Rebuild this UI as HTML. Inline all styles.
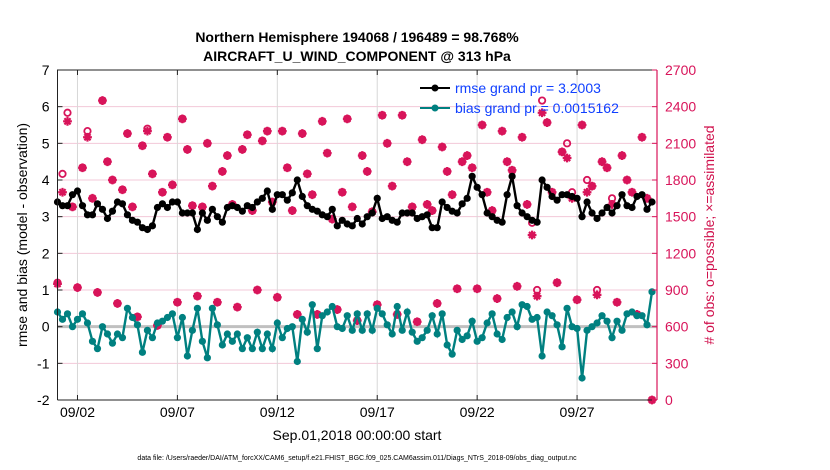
<!DOCTYPE html>
<html><head><meta charset="utf-8"><style>
body{margin:0;background:#fff;}
svg{display:block;font-family:"Liberation Sans",Arial,sans-serif;}
</style></head><body>
<svg id="chart" width="830" height="470" xmlns="http://www.w3.org/2000/svg">
<rect width="830" height="470" fill="#fff"/>
<g id="grid"></g>
<g id="marks"></g>
<g id="axes"></g>
<text x="357" y="42" text-anchor="middle" font-size="14" font-weight="bold">Northern Hemisphere 194068 / 196489 = 98.768%</text>
<text x="357" y="61" text-anchor="middle" font-size="14" font-weight="bold">AIRCRAFT_U_WIND_COMPONENT @ 313 hPa</text>
<text transform="translate(27,235) rotate(-90)" text-anchor="middle" font-size="14">rmse and bias (model - observation)</text>
<text transform="translate(714,235) rotate(-90)" text-anchor="middle" font-size="14" fill="#d0104c"># of obs: o=possible; ×=assimilated</text>
<text x="357" y="440" text-anchor="middle" font-size="14">Sep.01,2018 00:00:00 start</text>
<text x="357" y="460" text-anchor="middle" font-size="7">data file: /Users/raeder/DAI/ATM_forcXX/CAM6_setup/f.e21.FHIST_BGC.f09_025.CAM6assim.011/Diags_NTrS_2018-09/obs_diag_output.nc</text>
<g>
<line x1="420" y1="88" x2="450" y2="88" stroke="#000" stroke-width="2"/><circle cx="435" cy="88" r="3.5" fill="#000"/>
<text x="455" y="93" font-size="14" fill="#1040ff">rmse grand pr = 3.2003</text>
<line x1="420" y1="108" x2="450" y2="108" stroke="#008080" stroke-width="2"/><circle cx="435" cy="108" r="3.5" fill="#008080"/>
<text x="455" y="113" font-size="14" fill="#1040ff">bias grand pr = 0.0015162</text>
</g>
</svg>
<script>
const rmse=[3.4,3.3,3.3,3.6, 3.7,3.3,3.05,3.05, 3.35,3.2,2.95,3.15, 3.4,3.35,3.05,2.9, 2.85,2.7,2.65,2.75, 3.25,3.35,3.25,3.4, 3.4,3.1,3.1,3.1, 2.65,3.1,2.9,3.2, 3.0,2.85,3.25,3.3, 3.25,3.15,3.3,3.25, 3.4,3.5,3.7,3.2, 3.6,3.6,3.45,3.65, 4.0,3.55,3.3,3.2, 3.15,3.05,3.0,3.2, 2.75,2.9,2.8,2.75, 2.95,2.8,3.0,3.1, 3.5,2.95,3.0,2.9, 2.85,3.1,3.1,3.1, 2.95,3.0,3.05,2.7, 2.7,3.4,3.25,3.15, 3.1,3.35,3.5,4.1, 3.8,3.6,3.1,3.0, 2.9,2.85,3.6,4.1, 3.3,3.1,3.0,2.9, 2.85,4.0,3.8,3.55, 3.45,3.6,3.6,3.55, 3.5,3.0,3.4,3.1, 2.95,3.1,3.25,3.1, 3.3,3.6,3.3,3.25, 3.55,3.6,3.2,3.4];
const bias=[0.4,0.2,0.35,0.0, 0.2,0.35,0.1,-0.4, -0.6,0.0,-0.2,-0.45, -0.2,-0.3,0.5,0.25, 0.05,-0.7,-0.1,-0.3, 0.1,0.15,0.25,0.35, -0.3,0.25,-0.8,-0.1, 0.5,-0.4,-0.85,0.5, 0.05,-0.5,-0.2,-0.4, -0.2,-0.6,-0.3,-0.6, -0.15,-0.6,-0.2,-0.6, 0.1,-0.3,-0.05,0.0, -0.95,0.2,-0.15,0.6, -0.6,0.3,0.4,0.55, 0.0,-0.05,0.3,-0.1, 0.35,-0.1,0.35,-0.1, 0.5,0.35,0.05,-0.2, 0.55,-0.1,0.4,-0.15, -0.4,-0.3,-0.1,0.3, -0.2,0.35,-0.5,-0.75, -0.1,-0.35,-0.25,0.15, -0.4,-0.3,0.1,0.35, -0.2,-0.35,0.25,0.4, 0.0,0.6,0.55,0.2, 0.25,-0.8,0.4,0.3, 0.05,-0.55,0.5,0.0, -0.05,-1.4,-0.1,0.0, 0.1,0.3,0.15,-0.3, 0.15,-0.1,0.35,0.4, 0.3,0.3,0.05,0.95];
const obsAssim=[950,1700,2280,1580, 920,1900,2150,1650, 880,2450,1950,1800, 790,1720,2180,1580, 680,2080,2200,1850, 610,1700,2150,1760, 800,2300,2050,1590, 850,1580,2100,1750, 800,1870,2000,1600, 760,2050,2170,1550, 900,2120,2200,1620, 840,2200,1900,1550, 700,2180,1850,1680, 700,2280,2020,1480, 740,1700,2300,1580, 650,2000,1870,1540, 780,2330,2100,1750, 700,2330,1950,1580, 640,2130,1600,1550, 790,2070,1870,1680, 910,1950,2000,1900, 910,2250,1700,1550, 830,2200,1950,1880, 930,2150,1600,1350, 850,2350,2270,1700, 960,2030,1980,1650, 820,2250,1700,1750, 860,1950,1900,1600, 800,2000,1800,1700, 700,2150,1650,0];
const obsPossible=[960,1850,2350,1580, 920,1900,2200,1650, 880,2450,1950,1800, 790,1720,2180,1580, 680,2080,2220,1850, 610,1700,2150,1760, 800,2300,2050,1590, 850,1580,2100,1750, 800,1870,2000,1600, 760,2050,2170,1550, 900,2120,2200,1620, 840,2200,1900,1550, 700,2180,1850,1680, 700,2280,2020,1480, 740,1700,2300,1580, 650,2000,1870,1540, 780,2330,2100,1750, 700,2330,1950,1580, 640,2130,1600,1550, 790,2070,1870,1680, 910,1950,2000,1900, 910,2250,1700,1550, 830,2200,1950,1880, 930,2150,1600,1450, 900,2450,2270,1700, 960,2030,2100,1700, 820,2250,1800,1750, 900,1950,1900,1650, 800,2000,1800,1700, 700,2150,1650,0];
const leftTicks=[-2,-1,0,1,2,3,4,5,6,7];
const rightTicks=[0,300,600,900,1200,1500,1800,2100,2400,2700];
const dateTicks=[1,6,11,16,21,26];
const dateLabels=["09/02","09/07","09/12","09/17","09/22","09/27"];
const stepDays=0.25;

const L=57.5,R=657,T=70,B=400;
const xS=d=>L+(d/30)*(R-L);
const yL=v=>B-(v+2)/9*(B-T);
const yR=v=>B-v/2700*(B-T);
const NS="http://www.w3.org/2000/svg";
function mk(parent,tag,attrs){const e=document.createElementNS(NS,tag);for(const k in attrs)e.setAttribute(k,attrs[k]);document.getElementById(parent).appendChild(e);return e;}
leftTicks.forEach(v=>{const e=mk('grid','line',{x1:L,x2:R,y1:yL(v),y2:yL(v),stroke:'#f3c8d8','stroke-width':1});

});
dateTicks.forEach(d=>{const e=mk('grid','line',{x1:xS(d),x2:xS(d),y1:T,y2:B,stroke:'#d8d8d8','stroke-width':1});

});
const zl=mk('grid','line',{x1:L,x2:R,y1:yL(0),y2:yL(0),stroke:'#c0c0c0','stroke-width':3});


const col='#d8145a';
obsPossible.forEach((v,i)=>{const x=xS(i*stepDays),y=yR(v);
const c=mk('marks','circle',{cx:x,cy:y,r:3.2,fill:'none',stroke:col,'stroke-width':1.8});

});
obsAssim.forEach((v,i)=>{const x=xS(i*stepDays),y=yR(v);const s=4.4;
const p=mk('marks','path',{d:`M${x-s} ${y}H${x+s}M${x} ${y-s}V${y+s}M${x-s*.7} ${y-s*.7}L${x+s*.7} ${y+s*.7}M${x-s*.7} ${y+s*.7}L${x+s*.7} ${y-s*.7}`,stroke:col,'stroke-width':2.2});

});
function series(arr,color,name){
const pts=arr.map((v,i)=>xS(i*stepDays).toFixed(1)+','+yL(v).toFixed(1)).join(' ');
const pl=mk('marks','polyline',{points:pts,fill:'none',stroke:color,'stroke-width':2.4});


arr.forEach((v,i)=>{const c=mk('marks','circle',{cx:xS(i*stepDays),cy:yL(v),r:3.6,fill:color});

});}
series(rmse,'#000','rmse');
series(bias,'#008080','bias');
const fr=mk('axes','path',{d:`M${L} ${B}V${T}H${R}`,fill:'none',stroke:'#222','stroke-width':1});


const bx=mk('axes','line',{x1:L,x2:R,y1:B,y2:B,stroke:'#222'});


const ra=mk('axes','line',{x1:R,x2:R,y1:T,y2:B,stroke:col,'stroke-width':1.2});


leftTicks.forEach(v=>{mk('axes','line',{x1:L,x2:L+5,y1:yL(v),y2:yL(v),stroke:'#222'});
const t=mk('axes','text',{x:L-8,y:yL(v)+5,'text-anchor':'end','font-size':14});t.textContent=v;

});
rightTicks.forEach(v=>{mk('axes','line',{x1:R-5,x2:R,y1:yR(v),y2:yR(v),stroke:col});
const t=mk('axes','text',{x:R+8,y:yR(v)+5,'font-size':14,fill:col});t.textContent=v;

});
dateTicks.forEach((d,i)=>{mk('axes','line',{x1:xS(d),x2:xS(d),y1:B,y2:B-5,stroke:'#222'});mk('axes','line',{x1:xS(d),x2:xS(d),y1:T,y2:T+5,stroke:'#222'});
const t=mk('axes','text',{x:xS(d),y:B+17,'text-anchor':'middle','font-size':14});t.textContent=dateLabels[i];

});
</script>
</body></html>
